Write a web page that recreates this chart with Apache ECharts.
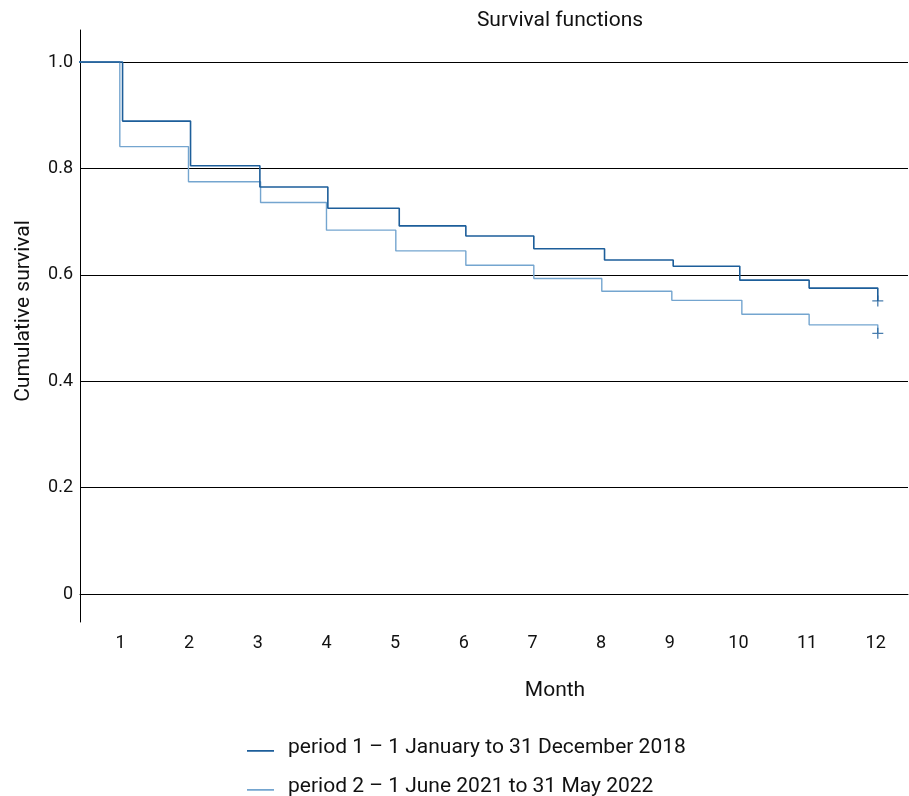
<!DOCTYPE html>
<html>
<head>
<meta charset="utf-8">
<script src="https://cdn.jsdelivr.net/npm/echarts@6/dist/echarts.min.js"></script>
<style>html,body{margin:0;padding:0;background:#fff}#c{width:909px;height:796px}</style>
</head>
<body>
<div id="c"></div>
<script>
const monthTicks = [1,2,3,4,5,6,7,8,9,10,11,12];
const survivalTicks = [0,0.2,0.4,0.6,0.8,1.0];
const seriesNames = ['period 1 – 1 January to 31 December 2018','period 2 – 1 June 2021 to 31 May 2022'];
// step times (months) and survival after each step
const p1Time = [0, 1.03, 2.02, 3.03, 4.02, 5.06, 6.03, 7.02, 8.05, 9.05, 10.02, 11.03, 12.03];
const p1Surv = [1.0, 0.889, 0.805, 0.765, 0.725, 0.692, 0.673, 0.649, 0.628, 0.616, 0.590, 0.575, 0.551];
const p2Time = [0, 0.99, 1.99, 3.04, 4.00, 5.01, 6.03, 7.02, 8.01, 9.03, 10.05, 11.03, 12.03];
const p2Surv = [1.0, 0.841, 0.775, 0.736, 0.684, 0.645, 0.618, 0.593, 0.569, 0.552, 0.526, 0.506, 0.490];
const p1Censor = [[12.03, 0.551]];
const p2Censor = [[12.03, 0.490]];

const dark = '#1d5e9a', light = '#74a5cf';
const font = 'Roboto';
const zip = (a,b) => a.map((v,i)=>[v,b[i]]);
const plus = 'path://M0,4.4H10V5.6H0Z M4.4,0H5.6V10H4.4Z';
const lineIcon = 'path://M0,0H0.01V0.01H0Z M0,9.6H27V11.2H0Z M0,14H0.01V13.99H0Z';

const chart = echarts.init(document.getElementById('c'), null, {renderer:'canvas'});
chart.setOption({
  animation: false,
  backgroundColor: '#fff',
  textStyle: {fontFamily: font},
  title: {
    text: 'Survival functions',
    left: 555, top: 5, textAlign: 'center',
    textStyle: {fontFamily: font, fontSize: 21, fontWeight: 'normal', color: '#111'}
  },
  grid: {left: 80, right: 1, top: 30, bottom: 174, outerBoundsMode: 'none'},
  legend: {
    orient: 'vertical', left: 247, top: 737, height: 120, itemGap: 18, padding: 0,
    itemWidth: 27, itemHeight: 14, icon: lineIcon,
    textStyle: {fontFamily: font, fontSize: 21, color: '#111', padding: [0,0,0,9]},
    data: [
      {name: seriesNames[0], itemStyle: {color: dark}},
      {name: seriesNames[1], itemStyle: {color: light}}
    ]
  },
  xAxis: {
    type: 'value', min: 0.41, max: 12.47,
    name: 'Month', nameLocation: 'middle', nameGap: 58,
    nameTextStyle: {fontFamily: font, fontSize: 21, color: '#111', padding: [0,0,0,122]},
    axisLine: {show: true, lineStyle: {color: '#000', width: 1}},
    axisTick: {show: false, customValues: monthTicks},
    axisLabel: {customValues: monthTicks, fontFamily: font, fontSize: 18, color: '#111', margin: 12},
    splitLine: {show: false}
  },
  yAxis: {
    type: 'value', min: -0.0526, max: 1.0602,
    name: 'Cumulative survival', nameLocation: 'middle', nameGap: 46, nameRotate: 90,
    nameTextStyle: {fontFamily: font, fontSize: 21, color: '#111', padding: [0,0,0,30]},
    axisLine: {show: true, lineStyle: {color: '#000', width: 1}},
    axisTick: {show: false, customValues: survivalTicks},
    axisLabel: {customValues: survivalTicks, fontFamily: font, fontSize: 18, color: '#111', margin: 7,
      formatter: v => (v === 0 ? '0' : v.toFixed(1))},
    splitLine: {show: true, lineStyle: {color: '#000', width: 1}}
  },
  series: [
    {name: seriesNames[0], type: 'line', step: 'end', symbol: 'none', clip: true,
     data: zip(p1Time, p1Surv), lineStyle: {color: dark, width: 1.6}, itemStyle: {color: dark}, z: 3},
    {name: seriesNames[1], type: 'line', step: 'end', symbol: 'none', clip: true,
     data: zip(p2Time, p2Surv), lineStyle: {color: light, width: 1.4}, itemStyle: {color: light}, z: 2},
    {name: 'censored 1', type: 'scatter', symbol: plus, symbolSize: 11,
     data: p1Censor, itemStyle: {color: dark}, z: 4},
    {name: 'censored 2', type: 'scatter', symbol: plus, symbolSize: 11,
     data: p2Censor, itemStyle: {color: dark}, z: 4}
  ]
});
</script>
</body>
</html>
